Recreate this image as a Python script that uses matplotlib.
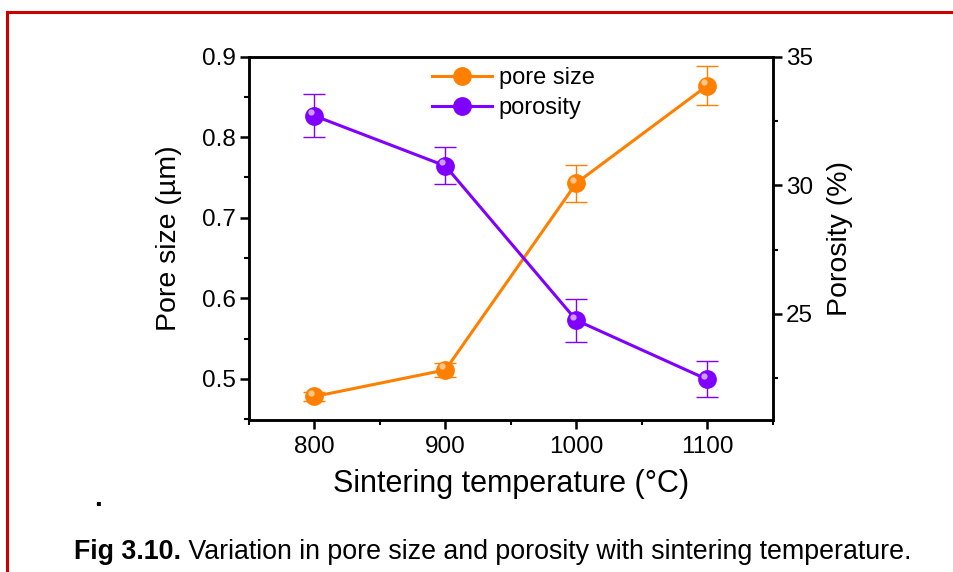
import matplotlib
matplotlib.use("Agg")
import matplotlib.pyplot as plt
from matplotlib.lines import Line2D
from matplotlib.ticker import MultipleLocator
from matplotlib.transforms import offset_copy

plt.rcParams["font.family"] = ["Liberation Sans", "DejaVu Sans"]

# sintering temperature (°C)
temperature = [800, 900, 1000, 1100]
# pore size (µm) and its error
pore_size = [0.478, 0.511, 0.743, 0.864]
pore_err = [0.005, 0.009, 0.023, 0.024]
# porosity (%) and its error
porosity = [32.7, 30.75, 24.75, 22.45]
poro_err = [0.84, 0.72, 0.84, 0.70]

ORANGE = "#FF8000"
PURPLE = "#8000FF"
ORANGE_HI = "#FFD9B0"
PURPLE_HI = "#E0C8FF"

fig = plt.figure(figsize=(9.54, 5.72), dpi=100)
ax = fig.add_axes([0.261, 0.266, 0.549, 0.635])
ax2 = ax.twinx()


def ball_series(axis, x, y, err, color, hi):
    axis.errorbar(x, y, yerr=err, fmt="none", ecolor=color, elinewidth=1.0,
                  capsize=8, capthick=1.0, zorder=2)
    axis.plot(x, y, color=color, lw=2.2, marker="o", ms=12.5,
              mec=color, mfc=color, zorder=3)
    # small highlight to give the markers a shaded look
    tr = offset_copy(axis.transData, fig=fig, x=-2.5, y=2.5, units="points")
    axis.plot(x, y, ls="none", marker="o", ms=4.5, mfc=hi, mec="none",
              alpha=0.8, transform=tr, zorder=4)


ball_series(ax, temperature, pore_size, pore_err, ORANGE, ORANGE_HI)
ball_series(ax2, temperature, porosity, poro_err, PURPLE, PURPLE_HI)

ax.set_xlim(750, 1150)
ax.set_ylim(0.449, 0.9)
ax2.set_ylim(20.88, 35)

ax.xaxis.set_major_locator(MultipleLocator(100))
ax.xaxis.set_minor_locator(MultipleLocator(50))
ax.yaxis.set_major_locator(MultipleLocator(0.1))
ax.yaxis.set_minor_locator(MultipleLocator(0.05))
ax2.yaxis.set_major_locator(MultipleLocator(5))
ax2.yaxis.set_minor_locator(MultipleLocator(2.5))

for a in (ax, ax2):
    for s in a.spines.values():
        s.set_linewidth(1.8)
    a.tick_params(which="major", direction="out", length=6.5, width=1.8,
                  labelsize=17.5, pad=3)
    a.tick_params(which="minor", direction="out", length=3.5, width=1.5)
ax.tick_params(axis="x", which="major", pad=5)

ax.set_xlabel("Sintering temperature (°C)", fontsize=22, labelpad=8)
ax.set_ylabel("Pore size (µm)", fontsize=20.5, labelpad=14)
ax2.set_ylabel("Porosity (%)", fontsize=20.5, labelpad=10)

handles = [
    Line2D([], [], color=ORANGE, lw=2.2, marker="o", ms=12.5, mfc=ORANGE),
    Line2D([], [], color=PURPLE, lw=2.2, marker="o", ms=12.5, mfc=PURPLE),
]
ax.legend(handles, ["pore size", "porosity"], loc="upper center",
          bbox_to_anchor=(0.505, 1.03), frameon=False, fontsize=17,
          handlelength=2.5, handletextpad=0.3, labelspacing=0.35)

# page frame and caption
fig.add_artist(Line2D([7 / 954, 7 / 954], [0, 1 - 12 / 572],
                      color="#CC0000", lw=2.2, transform=fig.transFigure))
fig.add_artist(Line2D([7 / 954, 1], [1 - 12 / 572, 1 - 12 / 572],
                      color="#CC0000", lw=2.2, transform=fig.transFigure))
fig.text(98 / 954, 1 - 506 / 572, ".", fontsize=20, fontweight="bold",
         ha="center", va="baseline")

cap = fig.text(74 / 954, 1 - 559 / 572, "Fig 3.10.", fontsize=19.3,
               fontweight="bold", ha="left", va="baseline")
fig.add_artist(plt.Annotation(" Variation in pore size and porosity with sintering temperature.",
                              xy=(1, 0), xycoords=cap, fontsize=19.3,
                              ha="left", va="bottom"))

fig.savefig("out.png", dpi=100)
